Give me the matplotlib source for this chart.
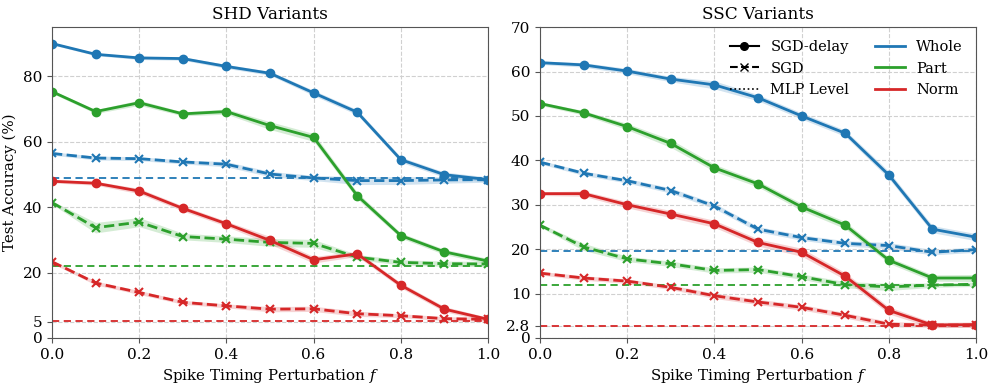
import matplotlib
matplotlib.use("Agg")
import matplotlib.pyplot as plt
from matplotlib.lines import Line2D
import numpy as np

plt.rcParams['font.family'] = 'DejaVu Serif'
plt.rcParams['mathtext.fontset'] = 'dejavuserif'

# perturbation levels
f_vals = [0.0, 0.1, 0.2, 0.3, 0.4, 0.5, 0.6, 0.7, 0.8, 0.9, 1.0]
variants = ["Whole", "Part", "Norm"]
colors = {"Whole": "#1f77b4", "Part": "#2ca02c", "Norm": "#d62728"}

# SHD accuracies (%)
shd_delay = {
    "Whole": [90.0, 86.7, 85.6, 85.4, 83.0, 80.9, 74.9, 69.0, 54.5, 49.9, 48.4],
    "Part":  [75.3, 69.2, 71.9, 68.5, 69.2, 64.9, 61.3, 43.5, 31.3, 26.3, 23.5],
    "Norm":  [47.9, 47.3, 44.9, 39.6, 34.9, 29.8, 23.9, 25.7, 16.1, 8.8, 5.7],
}
shd_sgd = {
    "Whole": [56.4, 55.0, 54.8, 53.8, 53.1, 50.1, 48.9, 48.1, 48.1, 48.3, 48.4],
    "Part":  [41.4, 33.7, 35.4, 31.0, 30.2, 29.2, 28.9, 24.7, 23.1, 22.7, 22.6],
    "Norm":  [23.3, 16.8, 13.9, 10.9, 9.8, 8.8, 8.9, 7.4, 6.8, 5.9, 5.7],
}
shd_delay_std = {
    "Whole": [0.4, 0.4, 0.5, 0.5, 0.6, 0.6, 0.8, 0.8, 0.8, 0.8, 0.8],
    "Part":  [0.5, 0.6, 0.8, 0.6, 0.8, 1.2, 1.2, 1.0, 0.8, 0.8, 0.8],
    "Norm":  [0.5, 0.6, 0.8, 0.8, 0.8, 1.2, 1.0, 0.8, 0.8, 0.8, 0.6],
}
shd_sgd_std = {
    "Whole": [0.5, 0.6, 0.6, 0.6, 0.8, 0.8, 0.8, 1.2, 1.2, 1.0, 0.8],
    "Part":  [0.5, 1.6, 1.4, 1.0, 1.0, 1.2, 1.2, 0.8, 0.8, 0.8, 0.8],
    "Norm":  [0.5, 0.6, 0.6, 0.6, 0.6, 0.8, 0.8, 0.8, 0.6, 0.6, 0.6],
}
shd_mlp = {"Whole": 49.0, "Part": 22.1, "Norm": 5.1}

# SSC accuracies (%)
ssc_delay = {
    "Whole": [62.0, 61.5, 60.1, 58.3, 57.0, 54.1, 50.0, 46.1, 36.7, 24.5, 22.7],
    "Part":  [52.8, 50.7, 47.6, 43.8, 38.3, 34.7, 29.5, 25.4, 17.5, 13.5, 13.5],
    "Norm":  [32.5, 32.5, 30.0, 27.9, 25.7, 21.5, 19.3, 13.9, 6.2, 2.9, 3.0],
}
ssc_sgd = {
    "Whole": [39.6, 37.1, 35.4, 33.2, 29.7, 24.5, 22.6, 21.3, 20.8, 19.3, 19.9],
    "Part":  [25.4, 20.5, 17.8, 16.7, 15.2, 15.4, 13.8, 12.0, 11.5, 11.9, 12.1],
    "Norm":  [14.6, 13.5, 12.8, 11.4, 9.5, 8.1, 6.9, 5.1, 3.1, 2.9, 2.9],
}
ssc_delay_std = {
    "Whole": [0.4, 0.5, 0.6, 0.6, 0.9, 0.7, 0.7, 0.7, 0.8, 0.8, 0.8],
    "Part":  [0.4, 0.5, 0.7, 0.9, 0.8, 0.7, 0.8, 0.8, 0.7, 0.7, 0.8],
    "Norm":  [0.4, 0.6, 0.7, 0.8, 0.8, 0.8, 0.9, 0.8, 0.8, 0.6, 0.6],
}
ssc_sgd_std = {
    "Whole": [0.4, 0.5, 0.5, 0.6, 0.6, 0.6, 0.6, 0.6, 0.7, 0.6, 0.6],
    "Part":  [0.4, 0.8, 0.6, 0.6, 0.6, 0.6, 0.6, 0.7, 0.8, 0.5, 0.5],
    "Norm":  [0.4, 0.5, 0.5, 0.5, 0.6, 0.6, 0.6, 0.6, 0.6, 0.5, 0.5],
}
ssc_mlp = {"Whole": 19.6, "Part": 12.0, "Norm": 2.8}

shd_yticks = [0, 5, 20, 40, 60, 80]
ssc_yticks = [0, 2.8, 10, 20, 30, 40, 50, 60, 70]


def draw_panel(ax, delay, sgd, delay_std, sgd_std, mlp, title, ymax, yticks):
    x = np.array(f_vals)
    for v in variants:
        c = colors[v]
        d = np.array(delay[v]); ds = np.array(delay_std[v])
        s = np.array(sgd[v]); ss = np.array(sgd_std[v])
        ax.fill_between(x, d - ds, d + ds, color=c, alpha=0.2, lw=0)
        ax.plot(x, d, '-o', color=c, lw=2, ms=6)
        ax.fill_between(x, s - ss, s + ss, color=c, alpha=0.2, lw=0)
        ax.plot(x, s, '--x', color=c, lw=2, ms=6, mew=1.5)
        ax.axhline(mlp[v], color=c, ls='--', lw=1.3, dashes=(4, 2.5))
    ax.set_xlim(0, 1)
    ax.set_ylim(0, ymax)
    ax.set_yticks(yticks)
    ax.set_yticklabels([f"{t:g}" for t in yticks])
    ax.set_xticks(np.arange(0, 1.01, 0.2))
    ax.set_xlabel("Spike Timing Perturbation $f$", fontsize=10.8)
    ax.set_title(title, fontsize=12.2)
    ax.grid(True, ls='--', color='#d0d0d0', lw=0.8)
    ax.tick_params(labelsize=11, color='#555555')
    for sp in ax.spines.values():
        sp.set_color('#555555')


fig = plt.figure(figsize=(9.96, 3.88), dpi=100)
ax1 = fig.add_axes([0.0522, 0.129, 0.4378, 0.801])
ax2 = fig.add_axes([0.5422, 0.129, 0.4378, 0.801])

draw_panel(ax1, shd_delay, shd_sgd, shd_delay_std, shd_sgd_std, shd_mlp,
           "SHD Variants", 95, shd_yticks)
draw_panel(ax2, ssc_delay, ssc_sgd, ssc_delay_std, ssc_sgd_std, ssc_mlp,
           "SSC Variants", 70, ssc_yticks)
ax1.set_ylabel("Test Accuracy (%)", fontsize=10.8)

handles = [
    Line2D([], [], color='black', ls='-', marker='o', lw=1.5, ms=5.5),
    Line2D([], [], color='black', ls='--', marker='x', lw=1.5, ms=5.5),
    Line2D([], [], color='black', ls=':', lw=1.2),
    Line2D([], [], color=colors["Whole"], lw=2),
    Line2D([], [], color=colors["Part"], lw=2),
    Line2D([], [], color=colors["Norm"], lw=2),
]
labels = ["SGD-delay", "SGD", "MLP Level", "Whole", "Part", "Norm"]
ax2.legend(handles, labels, ncol=2, frameon=False, fontsize=10.5,
           loc='upper right', columnspacing=1.8, handlelength=2.0)

fig.savefig("out.png", dpi=100)
